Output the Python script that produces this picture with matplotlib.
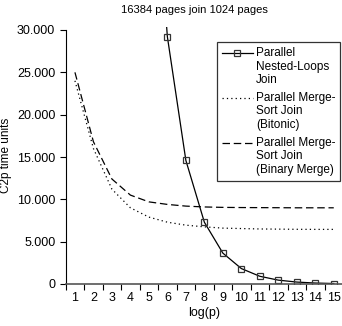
import matplotlib
matplotlib.use("Agg")
import matplotlib.pyplot as plt
from matplotlib.ticker import FuncFormatter, FixedLocator
from matplotlib.legend_handler import HandlerLine2D
import numpy as np

plt.rcParams['font.family'] = ['Liberation Sans', 'DejaVu Sans']

title = "16384 pages join 1024 pages"
x_nl = [5, 6, 7, 8, 9, 10, 11, 12, 13, 14, 15]
nested_loops = [58400, 29200, 14600, 7300, 3650, 1825, 912, 456, 228, 114, 57]
x_ms = list(range(1, 16))
bitonic = [24000, 16000, 11200, 9000, 7900, 7300, 6950, 6750, 6600, 6550, 6500, 6480, 6460, 6450, 6450]
binary_merge = [25000, 16800, 12400, 10500, 9700, 9400, 9200, 9100, 9050, 9030, 9020, 9010, 9000, 9000, 9000]
labels = ["Parallel\nNested-Loops\nJoin", "Parallel Merge-\nSort Join\n(Bitonic)",
          "Parallel Merge-\nSort Join\n(Binary Merge)"]


class TopHandler(HandlerLine2D):
    def create_artists(self, legend, orig_handle, xdescent, ydescent, width, height, fontsize, trans):
        arts = super().create_artists(legend, orig_handle, xdescent, ydescent, width, height, fontsize, trans)
        ytop = (height - ydescent) / 2 + fontsize * 1.2
        for a in arts:
            yd = np.asarray(a.get_ydata(), dtype=float)
            a.set_ydata(np.full_like(yd, ytop))
        return arts


fig = plt.figure(figsize=(3.42, 3.26), dpi=100)
px_per_unit = 254.0 / 30000
ytop_val = 30350
ax_h = ytop_val * px_per_unit
ax = fig.add_axes([65.7/342, 42/326, 277.3/342, ax_h/326])

l1, = ax.plot(x_nl, nested_loops, color='black', lw=0.9, marker='s', markersize=4.5,
              markerfacecolor='none', markeredgecolor='#333333', markeredgewidth=0.9, label=labels[0])
l2, = ax.plot(x_ms, bitonic, color='black', lw=0.9, linestyle=(0, (1, 2.5)), label=labels[1])
l3, = ax.plot(x_ms, binary_merge, color='black', lw=0.9, linestyle=(0, (6, 3)), label=labels[2])

ax.set_xlim(0.5, 15.5)
ax.set_ylim(0, ytop_val)
ax.spines['top'].set_visible(False)
ax.spines['right'].set_visible(False)
ax.spines['left'].set_bounds(0, 30000)
ax.spines['bottom'].set_color('#555555')
ax.spines['bottom'].set_linewidth(1.2)

ax.set_yticks([0, 5000, 10000, 15000, 20000, 25000, 30000])
ax.yaxis.set_major_formatter(FuncFormatter(lambda v, p: f"{int(v):,}".replace(",", ".")))
ax.set_xticks(x_ms)
ax.set_xticklabels([str(i) for i in x_ms])
ax.xaxis.set_minor_locator(FixedLocator([i + 0.5 for i in range(0, 16)]))
ax.tick_params(axis='x', which='major', length=0, labelsize=9, pad=6)
ax.tick_params(axis='x', which='minor', length=4, width=0.8)
ax.tick_params(axis='y', length=4, width=0.8, labelsize=9)

ax.set_xlabel("log(p)", fontsize=9, labelpad=2)
ax.set_ylabel("C2p time units", fontsize=8.5)
ax.yaxis.set_label_coords(-(65.7 - 12) / 277.3, (284 - 155) / ax_h)
fig.text(194 / 342, 1 - 10 / 326, title, ha='center', va='center', fontsize=8)

hm = {h: TopHandler() for h in (l1, l2, l3)}
leg = ax.legend(handles=[l1, l2, l3], loc='upper left',
                bbox_to_anchor=(0.546, (284 - 42) / ax_h), fontsize=8.5,
                frameon=True, fancybox=False, edgecolor='black', handlelength=2.6,
                handletextpad=0.3, borderpad=0.4, labelspacing=0.45, borderaxespad=0,
                handler_map=hm)
leg.get_frame().set_linewidth(0.9)

fig.savefig("out.png", dpi=100)
